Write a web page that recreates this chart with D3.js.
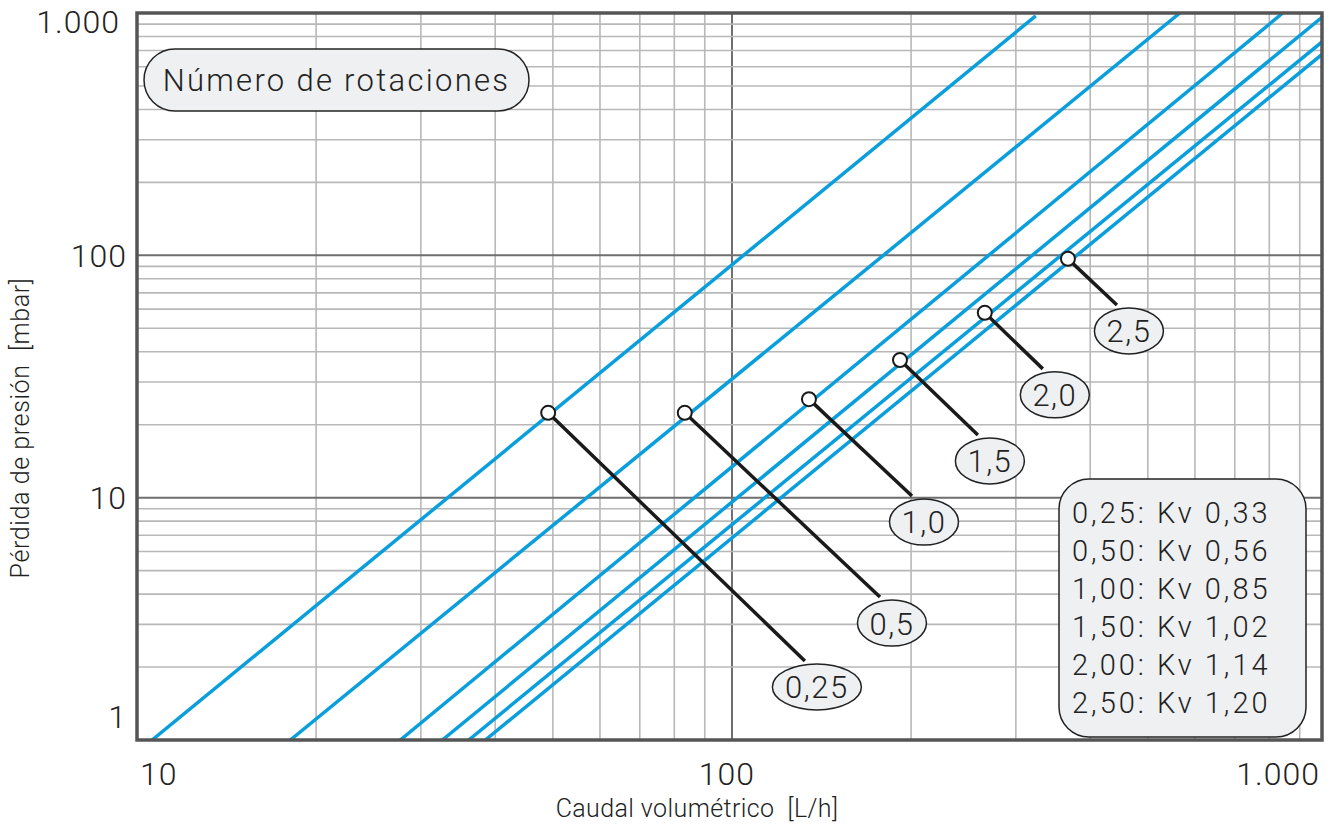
<!DOCTYPE html>
<html>
<head>
<meta charset="utf-8">
<script src="https://cdn.jsdelivr.net/npm/d3@7"></script>
<style>
  body { margin: 0; background: #fff; }
  text { font-family: Roboto, 'Liberation Sans', sans-serif; font-weight: 300; fill: #222; }
</style>
</head>
<body>
<div id="chart"></div>
<script>

// Data
var rotations = ['0,25', '0,50', '1,00', '1,50', '2,00', '2,50'];
var kvValues = ['0,33', '0,56', '0,85', '1,02', '1,14', '1,20'];
var curveLabels = ['0,25', '0,5', '1,0', '1,5', '2,0', '2,5'];

// each curve: [[Q start, dp start], [Q end, dp end]]  (L/h, mbar)
var curves = [
  [[10.6, 1], [324, 973]],
  [[18.1, 1], [566, 1000]],
  [[27.7, 1], [843, 1000]],
  [[32.6, 1], [981, 960]],
  [[36.1, 1], [981, 760]],
  [[38.5, 1], [981, 675]]
];

// marker on the curve, end of the leader line
var markers = [[49.1, 22.4], [83.3, 22.4], [134.7, 25.5], [191.6, 37.0], [266, 57.9], [367, 96.7]];
var leaderEnds = [[132.6, 2.12], [177.3, 3.89], [200.7, 10.16], [259, 18.15], [333, 34.0], [443.6, 62.4]];

var xTicks = [10, 100, 1000];
var xTickLabels = ['10', '100', '1.000'];
var yTicks = [1, 10, 100, 1000];
var yTickLabels = ['1', '10', '100', '1.000'];

var W = 1333, H = 830;
var plotL = 137, plotR = 1322, plotT = 13, plotB = 740;

var x = d3.scaleLog().domain([10, 981]).range([plotL, plotR]);
var y = d3.scaleLog().domain([1, 1000]).range([plotB, plotT]);

var svg = d3.select('#chart').append('svg').attr('width', W).attr('height', H);

svg.append('defs').append('clipPath').attr('id', 'plot-clip')
  .append('rect').attr('x', plotL).attr('y', plotT).attr('width', plotR - plotL).attr('height', plotB - plotT);

// Grid
var xMinor = [], yMinor = [];
[10, 100].forEach(function(d){ for (var i = 1; i < 10; i++) { if (d * i <= 981) xMinor.push(d * i); } });
[1, 10, 100].forEach(function(d){ for (var i = 1; i < 10; i++) yMinor.push(d * i); });

var grid = svg.append('g').attr('class', 'grid');
grid.selectAll('.vx').data(xMinor).enter().append('line')
  .attr('x1', function(d){ return x(d); }).attr('x2', function(d){ return x(d); })
  .attr('y1', plotT).attr('y2', plotB)
  .style('stroke', function(d){ return xTicks.indexOf(d) >= 0 ? '#6e6e6e' : '#b8b8b8'; })
  .style('stroke-width', function(d){ return xTicks.indexOf(d) >= 0 ? 2 : 1.6; });
grid.selectAll('.hy').data(yMinor).enter().append('line')
  .attr('y1', function(d){ return y(d); }).attr('y2', function(d){ return y(d); })
  .attr('x1', plotL).attr('x2', plotR)
  .style('stroke', function(d){ return yTicks.indexOf(d) >= 0 ? '#6e6e6e' : '#b8b8b8'; })
  .style('stroke-width', function(d){ return yTicks.indexOf(d) >= 0 ? 2 : 1.6; });

// Curves
var line = d3.line().x(function(d){ return x(d[0]); }).y(function(d){ return y(d[1]); });
svg.append('g').attr('clip-path', 'url(#plot-clip)')
  .selectAll('path').data(curves).enter().append('path')
  .attr('d', line)
  .style('fill', 'none').style('stroke', '#0a9fdc').style('stroke-width', 3.5);

// Frame
svg.append('rect').attr('x', plotL).attr('y', plotT).attr('width', plotR - plotL).attr('height', plotB - plotT)
  .style('fill', 'none').style('stroke', '#555').style('stroke-width', 3.5);

// Tick labels
svg.selectAll('.xtick').data(xTicks).enter().append('text')
  .attr('class', 'xtick')
  .attr('x', function(d, i){ return i === 0 ? x(d) + 3 : (i === xTicks.length - 1 ? plotR - 2 : x(d) - 5); })
  .attr('y', 785)
  .attr('text-anchor', function(d, i){ return i === 0 ? 'start' : (i === xTicks.length - 1 ? 'end' : 'middle'); })
  .style('font-size', '32px').style('letter-spacing', '1px')
  .text(function(d, i){ return xTickLabels[i]; });

svg.selectAll('.ytick').data(yTicks).enter().append('text')
  .attr('class', 'ytick')
  .attr('x', function(d, i){ return i === yTicks.length - 1 ? 120 : 127; })
  .attr('y', function(d, i){
    var off = 11.5;
    if (i === 0) off = -12.5;
    if (i === yTicks.length - 1) off = 19.5;
    return y(d) + off;
  })
  .attr('text-anchor', 'end')
  .style('font-size', '32px').style('letter-spacing', '1px')
  .text(function(d, i){ return yTickLabels[i]; });

// Axis titles
svg.append('text').attr('x', 697).attr('y', 817).attr('text-anchor', 'middle')
  .style('font-size', '25px').style('letter-spacing', '0.4px').style('white-space', 'pre')
  .text('Caudal volumétrico  [L/h]');
svg.append('text').attr('transform', 'translate(29,428) rotate(-90)').attr('text-anchor', 'middle')
  .style('font-size', '25px').style('letter-spacing', '0.6px').style('white-space', 'pre')
  .text('Pérdida de presión  [mbar]');

// Title pill
var pill = svg.append('g');
pill.append('rect').attr('x', 144).attr('y', 49).attr('width', 385).attr('height', 62).attr('rx', 31)
  .style('fill', '#eef0f2').style('stroke', '#222').style('stroke-width', 1.5);
pill.append('text').attr('x', 336.5).attr('y', 91).attr('text-anchor', 'middle')
  .style('font-size', '31px').style('letter-spacing', '2.3px')
  .text('Número de rotaciones');

// Leaders, markers and labels
var ann = svg.append('g');
ann.selectAll('.leader').data(markers).enter().append('line')
  .attr('x1', function(d){ return x(d[0]); }).attr('y1', function(d){ return y(d[1]); })
  .attr('x2', function(d, i){ return x(leaderEnds[i][0]); }).attr('y2', function(d, i){ return y(leaderEnds[i][1]); })
  .style('stroke', '#1a1a1a').style('stroke-width', 3.5);
ann.selectAll('.marker').data(markers).enter().append('circle')
  .attr('cx', function(d){ return x(d[0]); }).attr('cy', function(d){ return y(d[1]); })
  .attr('r', 7)
  .style('fill', '#fff').style('stroke', '#1a1a1a').style('stroke-width', 2);

var labels = ann.selectAll('.lab').data(leaderEnds).enter().append('g')
  .attr('transform', function(d){ return 'translate(' + (x(d[0]) + 12) + ',' + (y(d[1]) + 26) + ')'; });
labels.append('ellipse')
  .attr('rx', function(d, i){ return curveLabels[i].length > 3 ? 44.5 : 34.5; })
  .attr('ry', 23)
  .style('fill', '#eef0f2').style('stroke', '#222').style('stroke-width', 1.5);
labels.append('text').attr('y', 11.5).attr('text-anchor', 'middle')
  .style('font-size', '31px').style('letter-spacing', '1.5px')
  .text(function(d, i){ return curveLabels[i]; });

// Kv legend
var leg = svg.append('g');
leg.append('rect').attr('x', 1059).attr('y', 479).attr('width', 247).attr('height', 258).attr('rx', 30)
  .style('fill', '#eef0f2').style('stroke', '#222').style('stroke-width', 1.5);
leg.selectAll('text').data(rotations).enter().append('text')
  .attr('x', 1072).attr('y', function(d, i){ return 523 + i * 38; })
  .style('font-size', '29px').style('letter-spacing', '3px').style('white-space', 'pre')
  .text(function(d, i){ return d + ': Kv ' + kvValues[i]; });

</script>
</body>
</html>
